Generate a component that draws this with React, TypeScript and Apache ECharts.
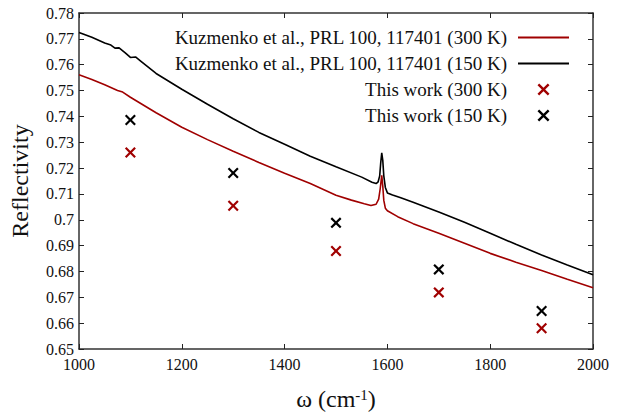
import React, { useEffect, useRef } from "react";
import * as echarts from "echarts";

const blackX = [1000, 1025, 1050, 1062, 1070, 1078, 1090, 1100, 1110, 1120, 1150, 1200, 1250, 1300, 1350, 1400, 1450, 1500, 1550, 1570, 1578, 1582, 1585, 1587, 1589, 1591, 1593, 1596, 1600, 1610, 1626, 1650, 1700, 1750, 1800, 1850, 1900, 1950, 2000];
const blackY = [0.7725, 0.7706, 0.7684, 0.7676, 0.7664, 0.7665, 0.7646, 0.7628, 0.763, 0.7614, 0.7566, 0.7505, 0.7447, 0.7391, 0.7338, 0.7292, 0.7246, 0.7205, 0.7165, 0.7145, 0.714, 0.7147, 0.717, 0.722, 0.7259, 0.723, 0.717, 0.7125, 0.7104, 0.7096, 0.7085, 0.7068, 0.703, 0.699, 0.6948, 0.6905, 0.6864, 0.6825, 0.6787];

const redX = [1000, 1025, 1050, 1075, 1085, 1100, 1150, 1200, 1250, 1300, 1350, 1400, 1450, 1500, 1530, 1555, 1568, 1578, 1583, 1586, 1589, 1591, 1593, 1596, 1600, 1620, 1650, 1700, 1750, 1800, 1850, 1900, 1950, 2000];
const redY = [0.7561, 0.7543, 0.7522, 0.75, 0.7494, 0.7474, 0.7414, 0.7358, 0.731, 0.7265, 0.7222, 0.718, 0.714, 0.7095, 0.7076, 0.7062, 0.7055, 0.706, 0.708, 0.712, 0.7172, 0.713, 0.7075, 0.7045, 0.7035, 0.7012, 0.6985, 0.6948, 0.6909, 0.687, 0.6836, 0.6804, 0.677, 0.6737];

const workX = [1100, 1300, 1500, 1700, 1900];
const work300 = [0.726, 0.7054, 0.6879, 0.6719, 0.658];
const work150 = [0.7386, 0.7181, 0.6988, 0.6808, 0.6647];

const names = [
  "Kuzmenko et al., PRL 100, 117401 (300 K)",
  "Kuzmenko et al., PRL 100, 117401 (150 K)",
  "This work (300 K)",
  "This work (150 K)",
];

const RED = "#a00000";
const BLACK = "#000000";
const FONT = "Liberation Serif";
const CROSS = "path://M0,1.4L1.4,0L5,3.6L8.6,0L10,1.4L6.4,5L10,8.6L8.6,10L5,6.4L1.4,10L0,8.6L3.6,5Z";
const LINEICON = "path://M0,0L51,0L51,2L0,2Z";

const fmt = (v: number) => String(parseFloat(v.toFixed(2)));

export default function App() {
  const ref = useRef<HTMLDivElement>(null);
  useEffect(() => {
    if (!ref.current) return;
    const chart = echarts.init(ref.current, undefined, { renderer: "svg" });
    const axisLine = { show: true, lineStyle: { color: "#333", width: 1.5 } };
    const axisTick = { show: true, inside: true, length: 5, lineStyle: { color: "#222", width: 1 } };
    chart.setOption({
      animation: false,
      backgroundColor: "#fff",
      textStyle: { fontFamily: FONT },
      grid: { left: 77, top: 13, right: 28, bottom: 54 },
      legend: {
        orient: "vertical",
        right: 47,
        top: 23,
        align: "right",
        itemWidth: 51,
        itemHeight: 12,
        itemGap: 7,
        textStyle: { fontFamily: FONT, fontSize: 19, color: "#111", lineHeight: 19, padding: [0, 6, 0, 0] },
        data: [
          { name: names[0], icon: LINEICON },
          { name: names[1], icon: LINEICON },
          { name: names[2], icon: CROSS },
          { name: names[3], icon: CROSS },
        ],
      },
      xAxis: [
        {
          type: "value",
          min: 1000,
          max: 2000,
          interval: 200,
          axisLine,
          axisTick,
          splitLine: { show: false },
          axisLabel: { fontFamily: FONT, fontSize: 16, color: "#111", margin: 7, formatter: (v: number) => String(v) },
          name: "{a|ω (cm}{b|-1}{a|)}",
          nameLocation: "middle",
          nameGap: 38,
          nameTextStyle: {
            rich: {
              a: { fontFamily: FONT, fontSize: 24, color: "#111", lineHeight: 24, verticalAlign: "bottom" },
              b: { fontFamily: FONT, fontSize: 15, color: "#111", lineHeight: 24, verticalAlign: "top", padding: [0, 0, 8, 0] },
            },
          },
        },
        {
          type: "value",
          position: "top",
          min: 1000,
          max: 2000,
          interval: 200,
          axisLine,
          axisTick,
          splitLine: { show: false },
          axisLabel: { show: false },
        },
      ],
      yAxis: [
        {
          type: "value",
          min: 0.65,
          max: 0.78,
          interval: 0.01,
          axisLine,
          axisTick,
          splitLine: { show: false },
          axisLabel: { fontFamily: FONT, fontSize: 16, color: "#111", margin: 5, formatter: (v: number) => fmt(v) },
          name: "Reflectivity",
          nameLocation: "middle",
          nameGap: 47,
          nameTextStyle: { fontFamily: FONT, fontSize: 24, color: "#111" },
        },
        {
          type: "value",
          position: "right",
          min: 0.65,
          max: 0.78,
          interval: 0.01,
          axisLine,
          axisTick,
          splitLine: { show: false },
          axisLabel: { show: false },
        },
      ],
      series: [
        {
          name: names[1],
          type: "line",
          data: blackX.map((x, i) => [x, blackY[i]]),
          showSymbol: false,
          symbol: "none",
          lineStyle: { color: BLACK, width: 1.6 },
          itemStyle: { color: BLACK },
        },
        {
          name: names[0],
          type: "line",
          data: redX.map((x, i) => [x, redY[i]]),
          showSymbol: false,
          symbol: "none",
          lineStyle: { color: RED, width: 1.6 },
          itemStyle: { color: RED },
        },
        {
          name: names[2],
          type: "scatter",
          data: workX.map((x, i) => [x, work300[i]]),
          symbol: CROSS,
          symbolSize: 11,
          itemStyle: { color: RED, opacity: 1 },
        },
        {
          name: names[3],
          type: "scatter",
          data: workX.map((x, i) => [x, work150[i]]),
          symbol: CROSS,
          symbolSize: 11,
          itemStyle: { color: BLACK, opacity: 1 },
        },
      ],
    });
    return () => chart.dispose();
  }, []);
  return <div ref={ref} style={{ position: "fixed", left: 0, top: 0, width: 621, height: 416 }} />;
}
